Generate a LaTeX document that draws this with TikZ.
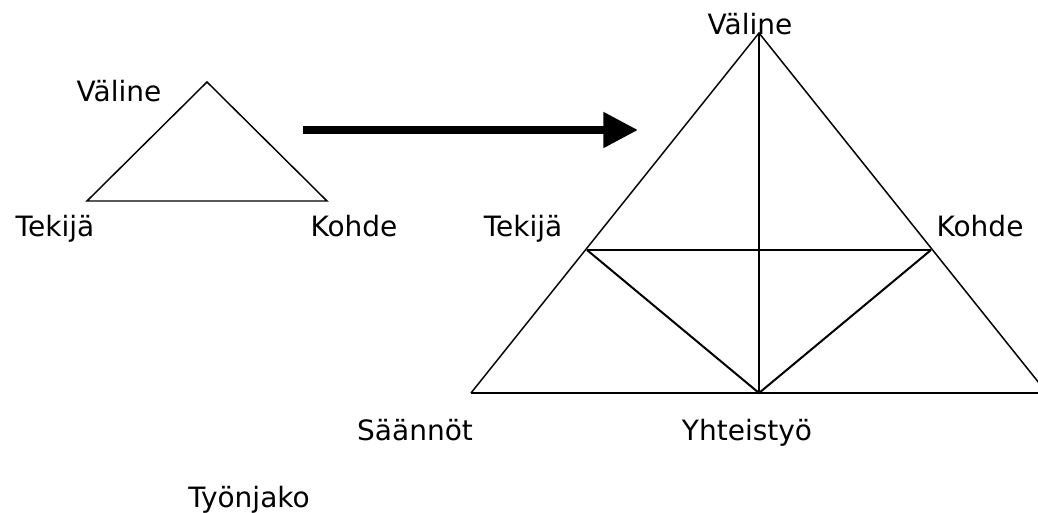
\documentclass[tikz,border=0pt]{standalone}
\usepackage{fontspec}
\setmainfont{DejaVu Sans}
\usetikzlibrary{arrows.meta,positioning}

\tikzset{
  lbl/.style={anchor=base, inner sep=0pt, font=\fontsize{21}{25}\selectfont},
  edge/.style={line width=1.1pt, line join=miter},
  inner/.style={line width=1.5pt},
  bigarrow/.style={line width=6pt, -{Triangle[length=26pt,width=25.5pt]}}
}

\begin{document}
\begin{tikzpicture}[x=0.75pt, y=-0.75pt]
\useasboundingbox (0,0) rectangle (1038,513);

% small triangle
\coordinate (sV) at (207,82);
\coordinate (sT) at (87,201);
\coordinate (sK) at (327,201);
\draw[edge] (sV) -- (sT) -- (sK) -- cycle;
\node[lbl] (sVl) at (119,102) {Väline};
\node[lbl] (sTl) at (55,237) {Tekijä};
\node[lbl] (sKl) at (354,237) {Kohde};

% arrow
\coordinate (aS) at (303,130);
\coordinate (aE) at (638,130);
\draw[bigarrow] (aS) -- (aE);

% big triangle
\coordinate (bV) at (759,33);
\coordinate (bL) at (471,393);
\coordinate (bR) at (1047,393);
\coordinate (bM) at (759,393);
\coordinate (iL) at (587,250);
\coordinate (iR) at (931,250);
\draw[edge] (bR) -- (bV) -- (bL);
\draw[inner] (bL) -- (bR);
\draw[inner] (bV) -- (bM);
\draw[inner] (iL) -- (iR);
\draw[inner] (iL) -- (bM) -- (iR);

\node[lbl] (bVl) at (750,35) {Väline};
\node[lbl] (bTl) at (523,237) {Tekijä};
\node[lbl] (bKl) at (980,237) {Kohde};
\node[lbl] (sa) at (415,440) {Säännöt};
\node[lbl] (yh) at (747,440) {Yhteistyö};
\node[lbl] (ty) at (249,507) {Työnjako};
\end{tikzpicture}
\end{document}
